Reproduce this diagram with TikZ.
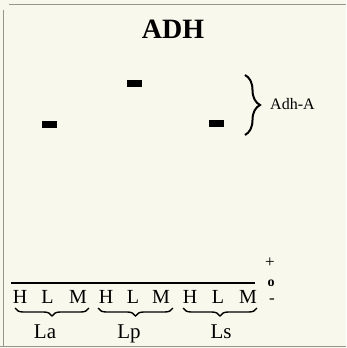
\documentclass[tikz,border=0pt]{standalone}
\usepackage{fontspec}
\setmainfont{Liberation Serif}
\usetikzlibrary{decorations.pathreplacing}
\definecolor{bg}{RGB}{248,248,236}
\definecolor{framec}{RGB}{150,150,145}
\begin{document}
\begin{tikzpicture}[x=1pt,y=-1pt,
  band/.style={fill=black,minimum width=15pt,minimum height=7pt,inner sep=0pt},
  lane/.style={font=\fontsize{20}{20}\selectfont,anchor=base,inner sep=0pt},
  grp/.style={font=\fontsize{21}{21}\selectfont,anchor=base,inner sep=0pt},
  brc/.style={decorate,decoration={brace,amplitude=8pt},line width=1.4pt},
  bigbrc/.style={decorate,decoration={brace,amplitude=15pt},line width=2pt},
  frameline/.style={draw=framec,line width=1pt},
  sign/.style={font=\fontsize{17}{17}\selectfont,inner sep=0pt}]
\fill[bg] (0,0) rectangle (346,348);
\useasboundingbox (0,0) rectangle (346,348);
% frame
\coordinate (tl) at (9,4); \coordinate (tr) at (346,4);
\coordinate (lt) at (3,10); \coordinate (lb) at (3,346);
\coordinate (bl) at (0,346); \coordinate (br) at (346,346);
\draw[frameline] (tl) -- (tr);
\draw[frameline] (lt) -- (lb);
\draw[frameline] (bl) -- (br);
% title
\node[font=\fontsize{28}{28}\selectfont\bfseries,anchor=base,inner sep=0pt] (title) at (173,38) {ADH};
% bands
\node[band] (b1) at (49,124.5) {};
\node[band] (b2) at (134.5,83) {};
\node[band] (b3) at (216,123.5) {};
% right brace and label
\coordinate (rb1) at (245,75);
\coordinate (rb2) at (245,135);
\draw[bigbrc] (rb1) -- (rb2);
\node[font=\fontsize{16}{16}\selectfont,anchor=base west,inner sep=0pt] (adh) at (270,109) {Adh-A};
% overline
\coordinate (ol1) at (11,283); \coordinate (ol2) at (255,283);
\draw[line width=1.2pt] (ol1) -- (ol2);
% lanes
\node[lane] (h1) at (20,303) {H};
\node[lane] (l1) at (47.5,303) {L};
\node[lane] (m1) at (78,303) {M};
\node[lane] (h2) at (106,303) {H};
\node[lane] (l2) at (133,303) {L};
\node[lane] (m2) at (161,303) {M};
\node[lane] (h3) at (190,303) {H};
\node[lane] (l3) at (218,303) {L};
\node[lane] (m3) at (248,303) {M};
% bottom braces
\coordinate (g1a) at (89,308); \coordinate (g1b) at (15,308);
\coordinate (g2a) at (173,308); \coordinate (g2b) at (98,308);
\coordinate (g3a) at (257,308); \coordinate (g3b) at (183,308);
\draw[brc] (g1a) -- (g1b);
\draw[brc] (g2a) -- (g2b);
\draw[brc] (g3a) -- (g3b);
\node[grp] (la) at (45,338) {La};
\node[grp] (lp) at (129,338) {Lp};
\node[grp] (ls) at (221,338) {Ls};
% charge signs
\node[sign] (plus) at (270,263) {+};
\node[sign,font=\fontsize{14}{14}\selectfont\bfseries] (zero) at (271,283) {o};
\node[sign] (minus) at (272,301) {-};
\end{tikzpicture}
\end{document}
